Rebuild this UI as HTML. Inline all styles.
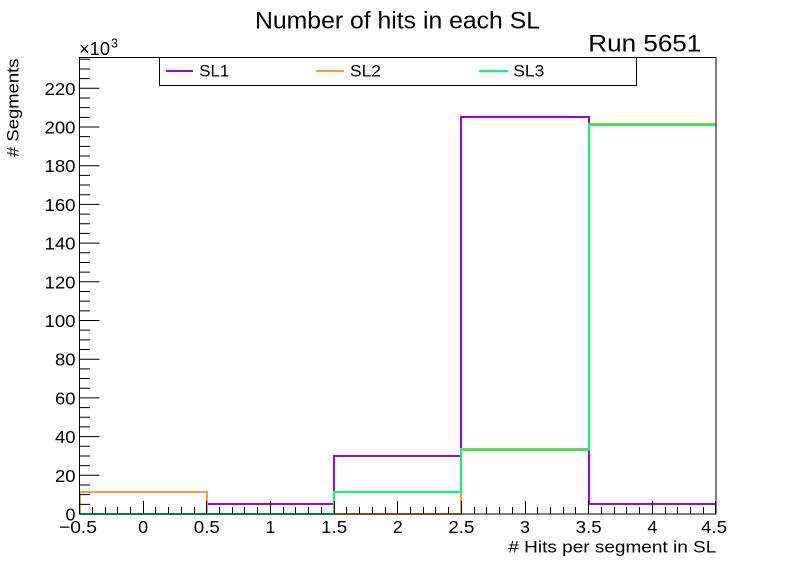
<!DOCTYPE html>
<html><head><meta charset="utf-8"><style>
html,body{margin:0;padding:0;background:#fff;}
svg{display:block;}
text{font-family:"Liberation Sans",Arial,sans-serif;fill:#000;}
</style></head><body>
<svg width="796" height="572" viewBox="0 0 796 572" xmlns="http://www.w3.org/2000/svg">
<rect width="796" height="572" fill="#fff"/>
<!-- title -->
<text x="255" y="28.3" font-size="24" textLength="285" lengthAdjust="spacingAndGlyphs">Number of hits in each SL</text>
<text x="588.3" y="51.7" font-size="24" textLength="113" lengthAdjust="spacingAndGlyphs">Run 5651</text>
<!-- x10^3 -->
<text x="79" y="55" font-size="18" textLength="31" lengthAdjust="spacingAndGlyphs">×10</text>
<text x="111" y="47.5" font-size="12.5">3</text>

<!-- histograms -->
<g fill="none" stroke-width="2" stroke-linejoin="miter">
<path stroke="#9900ff" d="M80,514 H207 V504 H334 V456 H461 V117 H589 V504 H716"/>
<path stroke="#ff9933" d="M80,514 V492 H207 V514 H461 V449 H589 V124 H716"/>
<path stroke="#00ff66" d="M80,514 H334 V492 H461 V450 H589 V125 H716"/>
</g>

<!-- frame -->
<rect x="79.5" y="57.5" width="636.5" height="456.5" fill="none" stroke="#000" stroke-width="1"/>

<!-- y ticks -->
<path stroke="#000" stroke-width="1" fill="none" d="
M79.5,514H99.5 M79.5,504.33H90 M79.5,494.65H90 M79.5,484.98H90
M79.5,475.3H99.5 M79.5,465.63H90 M79.5,455.95H90 M79.5,446.28H90
M79.5,436.6H99.5 M79.5,426.93H90 M79.5,417.25H90 M79.5,407.58H90
M79.5,397.9H99.5 M79.5,388.23H90 M79.5,378.55H90 M79.5,368.88H90
M79.5,359.2H99.5 M79.5,349.53H90 M79.5,339.85H90 M79.5,330.18H90
M79.5,320.5H99.5 M79.5,310.83H90 M79.5,301.15H90 M79.5,291.48H90
M79.5,281.8H99.5 M79.5,272.13H90 M79.5,262.45H90 M79.5,252.78H90
M79.5,243.1H99.5 M79.5,233.43H90 M79.5,223.75H90 M79.5,214.08H90
M79.5,204.4H99.5 M79.5,194.73H90 M79.5,185.05H90 M79.5,175.38H90
M79.5,165.7H99.5 M79.5,156.03H90 M79.5,146.35H90 M79.5,136.68H90
M79.5,127H99.5 M79.5,117.33H90 M79.5,107.65H90 M79.5,97.98H90
M79.5,88.3H99.5 M79.5,78.63H90 M79.5,68.95H90 M79.5,59.28H90"/>

<!-- x ticks -->
<path stroke="#000" stroke-width="1" fill="none" d="
M79.5,514V501 M92.5,514V507 M105.5,514V507 M117.5,514V507 M130.5,514V507
M143.5,514V501 M155.5,514V507 M168.5,514V507 M181.5,514V507 M194.5,514V507
M206.5,514V501 M219.5,514V507 M232.5,514V507 M244.5,514V507 M257.5,514V507
M270.5,514V501 M283.5,514V507 M295.5,514V507 M308.5,514V507 M321.5,514V507
M334.5,514V501 M346.5,514V507 M359.5,514V507 M372.5,514V507 M385.5,514V507
M397.5,514V501 M410.5,514V507 M423.5,514V507 M435.5,514V507 M448.5,514V507
M461.5,514V501 M474.5,514V507 M486.5,514V507 M499.5,514V507 M512.5,514V507
M525.5,514V501 M537.5,514V507 M550.5,514V507 M563.5,514V507 M575.5,514V507
M588.5,514V501 M601.5,514V507 M614.5,514V507 M626.5,514V507 M639.5,514V507
M652.5,514V501 M665.5,514V507 M677.5,514V507 M690.5,514V507 M703.5,514V507
M715.5,514V501"/>

<!-- y labels -->
<g font-size="17.5" text-anchor="end">
<text x="75.5" y="520.5" textLength="10" lengthAdjust="spacingAndGlyphs">0</text>
<text x="75.5" y="481.8" textLength="20.5" lengthAdjust="spacingAndGlyphs">20</text>
<text x="75.5" y="443.1" textLength="20.5" lengthAdjust="spacingAndGlyphs">40</text>
<text x="75.5" y="404.4" textLength="20.5" lengthAdjust="spacingAndGlyphs">60</text>
<text x="75.5" y="365.7" textLength="20.5" lengthAdjust="spacingAndGlyphs">80</text>
<text x="75.5" y="327" textLength="31" lengthAdjust="spacingAndGlyphs">100</text>
<text x="75.5" y="288.3" textLength="31" lengthAdjust="spacingAndGlyphs">120</text>
<text x="75.5" y="249.6" textLength="31" lengthAdjust="spacingAndGlyphs">140</text>
<text x="75.5" y="210.9" textLength="31" lengthAdjust="spacingAndGlyphs">160</text>
<text x="75.5" y="172.2" textLength="31" lengthAdjust="spacingAndGlyphs">180</text>
<text x="75.5" y="133.5" textLength="31" lengthAdjust="spacingAndGlyphs">200</text>
<text x="75.5" y="94.8" textLength="31" lengthAdjust="spacingAndGlyphs">220</text>
</g>

<!-- x labels -->
<g font-size="17.5" text-anchor="middle">
<text x="78" y="533" textLength="38" lengthAdjust="spacingAndGlyphs">−0.5</text>
<text x="143.15" y="533" textLength="10" lengthAdjust="spacingAndGlyphs">0</text>
<text x="206.8" y="533" textLength="26" lengthAdjust="spacingAndGlyphs">0.5</text>
<text x="270.45" y="533" textLength="10" lengthAdjust="spacingAndGlyphs">1</text>
<text x="334.1" y="533" textLength="26" lengthAdjust="spacingAndGlyphs">1.5</text>
<text x="397.75" y="533" textLength="10" lengthAdjust="spacingAndGlyphs">2</text>
<text x="461.4" y="533" textLength="26" lengthAdjust="spacingAndGlyphs">2.5</text>
<text x="525.05" y="533" textLength="10" lengthAdjust="spacingAndGlyphs">3</text>
<text x="588.7" y="533" textLength="26" lengthAdjust="spacingAndGlyphs">3.5</text>
<text x="652.35" y="533" textLength="10" lengthAdjust="spacingAndGlyphs">4</text>
<text x="714" y="533" textLength="26" lengthAdjust="spacingAndGlyphs">4.5</text>
</g>

<!-- axis titles -->
<text x="508.3" y="552.5" font-size="17" textLength="208" lengthAdjust="spacingAndGlyphs">#&#160;Hits per segment in SL</text>
<text transform="translate(18.5,157) rotate(-90)" x="0" y="0" font-size="17" textLength="98.5" lengthAdjust="spacingAndGlyphs"># Segments</text>

<!-- legend -->
<rect x="159.5" y="57.5" width="477" height="28" fill="#fff" stroke="#000" stroke-width="1"/>
<g stroke-width="2">
<line x1="166" y1="71" x2="193" y2="71" stroke="#9900ff"/>
<line x1="316" y1="71" x2="344" y2="71" stroke="#ff9933"/>
<line x1="479" y1="71" x2="508" y2="71" stroke="#00ff66"/>
</g>
<g font-size="17">
<text x="199.3" y="76.7" textLength="30" lengthAdjust="spacingAndGlyphs">SL1</text>
<text x="350" y="76.7" textLength="31" lengthAdjust="spacingAndGlyphs">SL2</text>
<text x="513.3" y="76.7" textLength="31" lengthAdjust="spacingAndGlyphs">SL3</text>
</g>
</svg>
</body></html>
